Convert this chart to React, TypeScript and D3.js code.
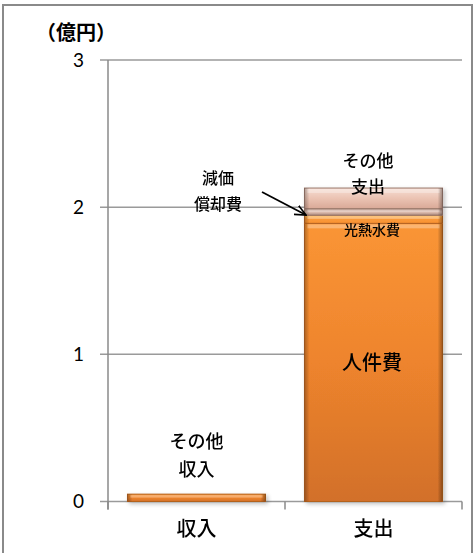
import React from "react";
import * as d3 from "d3";

const categories = ["収入", "支出"];
const yTicks = [0, 1, 2, 3];
const incomeSegments = [{ name: "その他収入", value: 0.05, kind: "orange" }];
const expenseSegments = [
  { name: "人件費", value: 1.89, kind: "orange" },
  { name: "光熱水費", value: 0.055, kind: "orange2" },
  { name: "減価償却費", value: 0.045, kind: "gray" },
  { name: "その他支出", value: 0.14, kind: "pink" },
];
const unitLabel = "（億円）";

const W = 475;
const H = 553;
const plot = { left: 108, right: 462, top: 60, bottom: 501.5 };
const JP = "'Noto Sans CJK JP', 'Noto Sans', sans-serif";
const NUM = "Lato, 'Open Sans', sans-serif";

export default function App() {
  const y = d3.scaleLinear().domain([0, 3]).range([plot.bottom, plot.top]);
  const x = d3.scaleBand().domain(categories).range([plot.left, plot.right]).paddingInner(0.22).paddingOuter(0.11);
  const bandFull = d3.scaleBand().domain(categories).range([plot.left, plot.right]);

  const stack = (segs: typeof expenseSegments, cat: string) => {
    let acc = 0;
    return segs.map((s) => {
      const y0 = acc;
      acc += s.value;
      return { ...s, y0, y1: acc, cat };
    });
  };
  const bars = [...stack(incomeSegments, "収入"), ...stack(expenseSegments, "支出")];

  const fillFor = (k: string) =>
    k === "pink" ? "url(#gPink)" : k === "gray" ? "url(#gGray)" : k === "orange2" ? "url(#gOrange2)" : "url(#gOrange)";

  const catCenter = (c: string) => (bandFull(c) as number) + bandFull.bandwidth() / 2;
  const bw = x.bandwidth();

  return (
    <div style={{ position: "absolute", left: 0, top: 0 }}>
      <svg width={W} height={H} style={{ display: "block" }}>
        <defs>
          <linearGradient id="gOrange" x1="0" y1="0" x2="0" y2="1">
            <stop offset="0" stopColor="#FA9535" />
            <stop offset="0.5" stopColor="#EE842D" />
            <stop offset="1" stopColor="#D2702A" />
          </linearGradient>
          <linearGradient id="gOrange2" x1="0" y1="0" x2="0" y2="1">
            <stop offset="0" stopColor="#FFC060" />
            <stop offset="0.4" stopColor="#FA9A3A" />
            <stop offset="1" stopColor="#F99232" />
          </linearGradient>
          <linearGradient id="gPink" x1="0" y1="0" x2="0" y2="1">
            <stop offset="0" stopColor="#F6DDD3" />
            <stop offset="0.5" stopColor="#EBC3B3" />
            <stop offset="1" stopColor="#D9A997" />
          </linearGradient>
          <linearGradient id="gGray" x1="0" y1="0" x2="0" y2="1">
            <stop offset="0" stopColor="#B59285" />
            <stop offset="0.5" stopColor="#E2C2B5" />
            <stop offset="1" stopColor="#A9877A" />
          </linearGradient>
          <linearGradient id="gSideL" x1="0" y1="0" x2="1" y2="0">
            <stop offset="0" stopColor="#000" stopOpacity="0.28" />
            <stop offset="1" stopColor="#000" stopOpacity="0" />
          </linearGradient>
          <linearGradient id="gSideR" x1="1" y1="0" x2="0" y2="0">
            <stop offset="0" stopColor="#000" stopOpacity="0.35" />
            <stop offset="1" stopColor="#000" stopOpacity="0" />
          </linearGradient>
          <filter id="shadow" x="-10%" y="-10%" width="130%" height="130%">
            <feGaussianBlur in="SourceAlpha" stdDeviation="2" />
            <feOffset dx="2" dy="2" result="b" />
            <feComponentTransfer>
              <feFuncA type="linear" slope="0.25" />
            </feComponentTransfer>
            <feMerge>
              <feMergeNode />
              <feMergeNode in="SourceGraphic" />
            </feMerge>
          </filter>
          <marker id="arr" viewBox="0 0 12 12" refX="11" refY="6" markerWidth="12" markerHeight="12" orient="auto" markerUnits="userSpaceOnUse">
            <path d="M0,1 L11,6 L0,11" fill="none" stroke="#000" strokeWidth="1.6" />
          </marker>
        </defs>

        <rect x={3} y={5} width={469} height={560} fill="#fff" stroke="#8a8a8a" strokeWidth={2} />

        {yTicks.map((t) => (
          <line key={"g" + t} x1={plot.left - 8} x2={plot.right} y1={y(t)} y2={y(t)} stroke="#9a9a9a" strokeWidth={1.5} />
        ))}
        <line x1={plot.left} x2={plot.left} y1={plot.top} y2={plot.bottom + 8} stroke="#8a8a8a" strokeWidth={1.5} />
        {[...categories.map((c) => bandFull(c) as number), plot.right].map((px, i) => (
          <line key={"ct" + i} x1={px} x2={px} y1={plot.bottom} y2={plot.bottom + 8} stroke="#8a8a8a" strokeWidth={1.5} />
        ))}
        {yTicks.map((t) => (
          <text key={"yl" + t} x={84} y={y(t)} dy="0.36em" textAnchor="end" fontFamily={NUM} fontSize={19} fill="#000">
            {t}
          </text>
        ))}
        <text x={36} y={40} fontFamily={JP} fontSize={20} fontWeight="bold" fill="#000">
          {unitLabel}
        </text>

        <g filter="url(#shadow)">
          {bars.map((b, i) => {
            const x0 = x(b.cat) as number;
            const top = y(b.y1);
            const h = y(b.y0) - y(b.y1);
            return (
              <g key={"b" + i}>
                <rect x={x0} y={top} width={bw} height={h} fill={fillFor(b.kind)} stroke={b.kind === "pink" || b.kind === "gray" ? "#9c7a6e" : "#B4621F"} strokeWidth={1} />
                <rect x={x0} y={top} width={Math.min(5, bw)} height={h} fill="url(#gSideL)" />
                <rect x={x0 + bw - 5} y={top} width={5} height={h} fill="url(#gSideR)" />
                {h > 6 && <rect x={x0 + 3} y={top + 1} width={bw - 6} height={Math.min(4, h / 3)} fill="#fff" opacity={0.3} />}
              </g>
            );
          })}
        </g>

        {categories.map((c) => (
          <text key={"cl" + c} x={catCenter(c)} y={536} textAnchor="middle" fontFamily={JP} fontSize={20} fontWeight={500} fill="#000">
            {c}
          </text>
        ))}

        <g fontFamily={JP} fontWeight={500} fill="#000">
          <text x={catCenter("収入")} y={448} textAnchor="middle" fontSize={18}>その他</text>
          <text x={catCenter("収入")} y={476} textAnchor="middle" fontSize={18}>収入</text>

          <text x={368} y={167} textAnchor="middle" fontSize={17}>その他</text>
          <text x={368} y={193} textAnchor="middle" fontSize={17}>支出</text>

          <text x={218} y={184} textAnchor="middle" fontSize={16}>減価</text>
          <text x={218} y={210} textAnchor="middle" fontSize={16}>償却費</text>

          <text x={372} y={235} textAnchor="middle" fontSize={14}>光熱水費</text>
          <text x={372} y={370} textAnchor="middle" fontSize={20}>人件費</text>
        </g>
        <line x1={262} y1={192} x2={306} y2={215} stroke="#000" strokeWidth={1.8} markerEnd="url(#arr)" />
      </svg>
    </div>
  );
}
